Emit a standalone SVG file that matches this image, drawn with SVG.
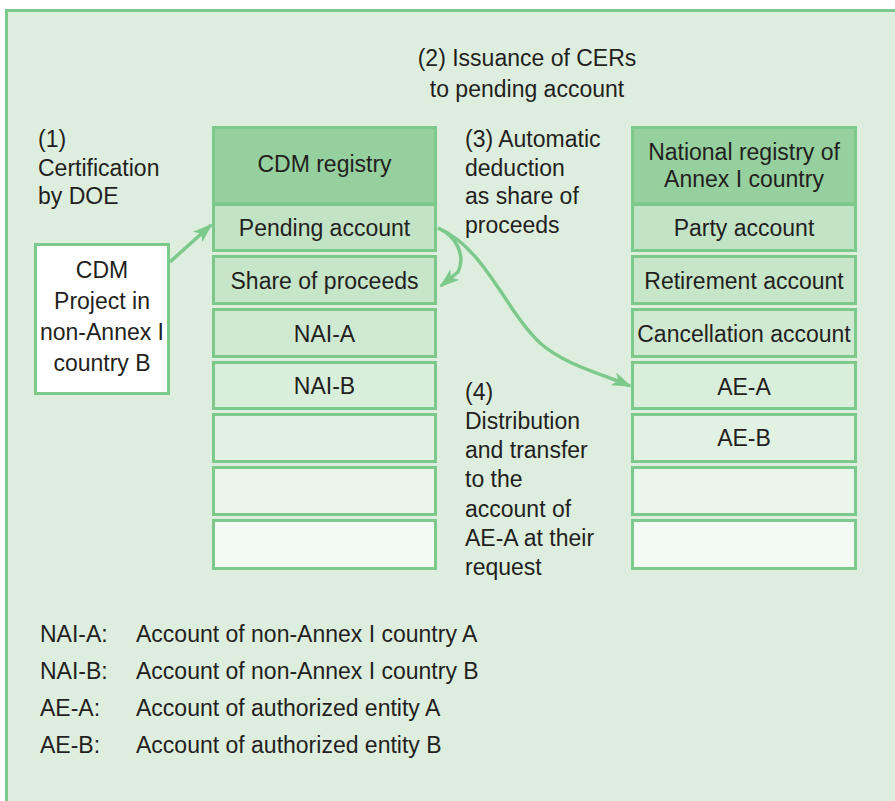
<svg xmlns="http://www.w3.org/2000/svg" width="895" height="801" viewBox="0 0 895 801">
<defs>
<style>
text{font-family:"Liberation Sans",Arial,sans-serif;font-size:23px;fill:#231f20}
.c{text-anchor:middle}
.box{stroke:#7dc98c;stroke-width:3}
.h{fill:#96d09e}
.r1{fill:#c3e3c6}
.r2{fill:#c6e5c9}
.r3{fill:#d0e9d1}
.r4{fill:#d9eedb}
.r5{fill:#e1f1e2}
.r6{fill:#eaf5eb}
.r7{fill:#f3f9f3}
.conn{fill:none;stroke:#7dc98c;stroke-width:3.5}
</style>
<marker id="ah" viewBox="0 0 20 14" refX="18" refY="7" markerWidth="20" markerHeight="14" markerUnits="userSpaceOnUse" orient="auto">
<path d="M0,0 L20,7 L0,14 L5,7 z" fill="#7dc98c"/>
</marker>
</defs>
<rect x="0" y="0" width="895" height="801" fill="#ffffff"/>
<rect x="6.5" y="10.5" width="900" height="800" fill="#ddeede" stroke="#7dc98c" stroke-width="3"/>

<g id="label1">
<text x="38" y="147">(1)</text>
<text x="38" y="176">Certification</text>
<text x="38" y="204">by DOE</text>
</g>
<g id="label2">
<text class="c" x="527" y="66">(2) Issuance of CERs</text>
<text class="c" x="527" y="97">to pending account</text>
</g>
<g id="label3">
<text x="465" y="147">(3) Automatic</text>
<text x="465" y="176">deduction</text>
<text x="465" y="204">as share of</text>
<text x="465" y="233">proceeds</text>
</g>
<g id="label4">
<text x="465" y="400">(4)</text>
<text x="465" y="429">Distribution</text>
<text x="465" y="458">and transfer</text>
<text x="465" y="487">to the</text>
<text x="465" y="517">account of</text>
<text x="465" y="546">AE-A at their</text>
<text x="465" y="575">request</text>
</g>

<g id="cdm-project">
<rect class="box" x="35.5" y="244.5" width="133" height="149" fill="#ffffff"/>
<text class="c" x="102" y="278">CDM</text>
<text class="c" x="102" y="309">Project in</text>
<text class="c" x="102" y="340">non-Annex I</text>
<text class="c" x="102" y="371">country B</text>
</g>

<g id="cdm-registry">
<rect class="box h" x="213.5" y="127.5" width="222" height="76"/>
<text class="c" x="324.5" y="172">CDM registry</text>
<rect class="box r1" x="213.5" y="204.5" width="222" height="46"/>
<text class="c" x="324.5" y="236">Pending account</text>
<rect class="box r2" x="213.5" y="256.5" width="222" height="47"/>
<text class="c" x="324.5" y="289">Share of proceeds</text>
<rect class="box r3" x="213.5" y="309.5" width="222" height="47"/>
<text class="c" x="324.5" y="342">NAI-A</text>
<rect class="box r4" x="213.5" y="362.5" width="222" height="46"/>
<text class="c" x="324.5" y="394">NAI-B</text>
<rect class="box r5" x="213.5" y="414.5" width="222" height="47"/>
<rect class="box r6" x="213.5" y="467.5" width="222" height="47"/>
<rect class="box r7" x="213.5" y="520.5" width="222" height="48"/>
</g>

<g id="national-registry">
<rect class="box h" x="632.5" y="127.5" width="223" height="76"/>
<text class="c" x="744" y="160">National registry of</text>
<text class="c" x="744" y="187">Annex I country</text>
<rect class="box r1" x="632.5" y="204.5" width="223" height="46"/>
<text class="c" x="744" y="236">Party account</text>
<rect class="box r2" x="632.5" y="256.5" width="223" height="47"/>
<text class="c" x="744" y="289">Retirement account</text>
<rect class="box r3" x="632.5" y="309.5" width="223" height="47"/>
<text class="c" x="744" y="342">Cancellation account</text>
<rect class="box r4" x="632.5" y="362.5" width="223" height="46"/>
<text class="c" x="744" y="395">AE-A</text>
<rect class="box r5" x="632.5" y="414.5" width="223" height="47"/>
<text class="c" x="744" y="446">AE-B</text>
<rect class="box r6" x="632.5" y="467.5" width="223" height="47"/>
<rect class="box r7" x="632.5" y="520.5" width="223" height="48"/>
</g>

<g id="connectors">
<path class="conn" d="M170,262 L211,225" marker-end="url(#ah)"/>
<path class="conn" d="M438,228 C456,236 466,255 458,272 L441,286" marker-end="url(#ah)"/>
<path class="conn" d="M438,228 C485,248 505,310 540,343 C565,365 600,373 630,386" marker-end="url(#ah)"/>
</g>

<g id="legend">
<text x="40" y="642">NAI-A:</text>
<text x="136" y="642">Account of non-Annex I country A</text>
<text x="40" y="679">NAI-B:</text>
<text x="136" y="679">Account of non-Annex I country B</text>
<text x="40" y="716">AE-A:</text>
<text x="136" y="716">Account of authorized entity A</text>
<text x="40" y="753">AE-B:</text>
<text x="136" y="753">Account of authorized entity B</text>
</g>
</svg>
